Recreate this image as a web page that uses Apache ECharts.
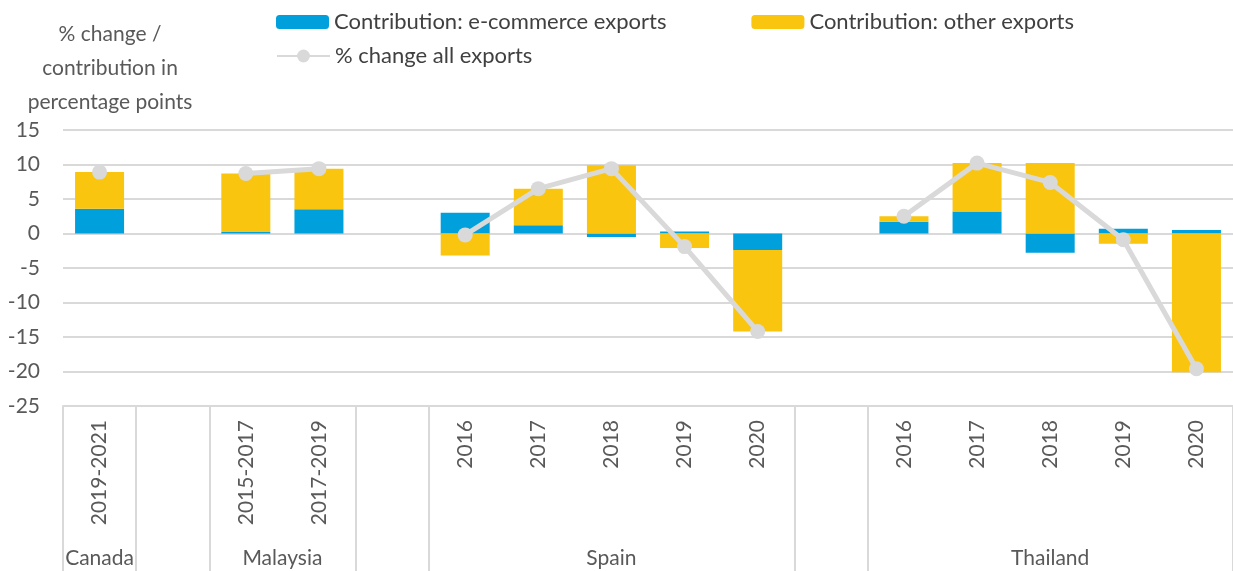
<!DOCTYPE html>
<html>
<head>
<meta charset="utf-8">
<script src="https://cdn.jsdelivr.net/npm/echarts@6/dist/echarts.min.js"></script>
<style>
html, body { margin: 0; padding: 0; background: #fff; }
#chart { width: 1233px; height: 571px; }
</style>
</head>
<body>
<div id="chart"></div>
<script>
// first-level categories (blank ones are spacers between countries)
const categories = ['2019-2021', '', '2015-2017', '2017-2019', '', '2016', '2017', '2018', '2019', '2020', '', '2016', '2017', '2018', '2019', '2020']
// second-level groups
const groupNames = ['Canada', '', 'Malaysia', '', 'Spain', '', 'Thailand']
const groupSizes = [1, 1, 2, 1, 5, 1, 5]

const ecommerce = [3.6, null, 0.2, 3.5, null, 3.0, 1.2, -0.5, 0.3, -2.4, null, 1.7, 3.2, -2.8, 0.7, 0.5]
const otherExports = [5.3, null, 8.5, 5.9, null, -3.2, 5.3, 9.9, -2.1, -11.8, null, 0.8, 7.0, 10.2, -1.5, -20.1]
const allExports = [8.9, null, 8.7, 9.4, null, -0.2, 6.5, 9.4, -1.9, -14.2, null, 2.5, 10.2, 7.4, -0.9, -19.6]

const font = 'Lato'
const textColor = '#595959'
const gridColor = '#d9d9d9'

// group boundaries and centres
const boundaries = []
const centres = {}
let start = 0
groupNames.forEach((name, i) => {
	boundaries.push(start)
	if (name) centres[start + groupSizes[i] / 2] = name
	start += groupSizes[i]
})

const chart = echarts.init(document.getElementById('chart'))

const option = {
	animation: false,
	grid: {
		left: 63,
		right: 0,
		top: 130,
		bottom: 165,
		containLabel: false,
		outerBoundsMode: 'none'
	},
	legend: [
		{
			data: ['Contribution: e-commerce exports', 'Contribution: other exports'],
			left: 276,
			top: 11,
			padding: 0,
			itemWidth: 53,
			itemHeight: 14,
			itemGap: 85,
			textStyle: { fontFamily: font, fontSize: 22, color: '#404040' }
		},
		{
			data: ['% change all exports'],
			left: 276,
			top: 45,
			padding: 0,
			itemWidth: 53,
			itemHeight: 16,
			textStyle: { fontFamily: font, fontSize: 22, color: '#404040' }
		}
	],
	xAxis: [
		{
			type: 'category',
			data: categories,
			position: 'bottom',
			axisLine: { onZero: false, lineStyle: { color: gridColor, width: 2 } },
			axisTick: {
				show: true,
				length: 170,
				interval: (index) => boundaries.includes(index),
				lineStyle: { color: gridColor, width: 2 }
			},
			axisLabel: {
				rotate: 90,
				interval: 0,
				margin: 14,
				fontFamily: font,
				fontSize: 21,
				color: textColor
			}
		},
		{
			type: 'value',
			min: 0,
			max: 16,
			interval: 0.5,
			position: 'bottom',
			axisLine: { show: false },
			axisTick: { show: false },
			splitLine: { show: false },
			axisLabel: {
				margin: 142,
				fontFamily: font,
				fontSize: 21,
				color: textColor,
				formatter: (v) => centres[v] || ''
			}
		}
	],
	yAxis: {
		type: 'value',
		min: -25,
		max: 15,
		interval: 5,
		name: '% change /\ncontribution in\npercentage points',
		nameLocation: 'end',
		nameGap: 11,
		nameTextStyle: {
			fontFamily: font,
			fontSize: 21,
			color: textColor,
			lineHeight: 34,
			align: 'center',
			padding: [0, 0, 0, 94]
		},
		axisLine: { show: false },
		axisTick: { show: false },
		splitLine: { lineStyle: { color: gridColor, width: 2 } },
		axisLabel: {
			margin: 23,
			fontFamily: font,
			fontSize: 21,
			color: textColor
		}
	},
	series: [
		{
			name: 'Contribution: e-commerce exports',
			type: 'bar',
			stack: 'contrib',
			barWidth: 49,
			itemStyle: { color: '#00a0dc' },
			data: ecommerce
		},
		{
			name: 'Contribution: other exports',
			type: 'bar',
			stack: 'contrib',
			barWidth: 49,
			itemStyle: { color: '#fac50e' },
			data: otherExports
		},
		{
			name: '% change all exports',
			type: 'line',
			symbol: 'circle',
			symbolSize: 15,
			connectNulls: false,
			lineStyle: { color: gridColor, width: 5 },
			itemStyle: { color: gridColor },
			data: allExports
		}
	]
}

chart.setOption(option)
</script>
</body>
</html>
